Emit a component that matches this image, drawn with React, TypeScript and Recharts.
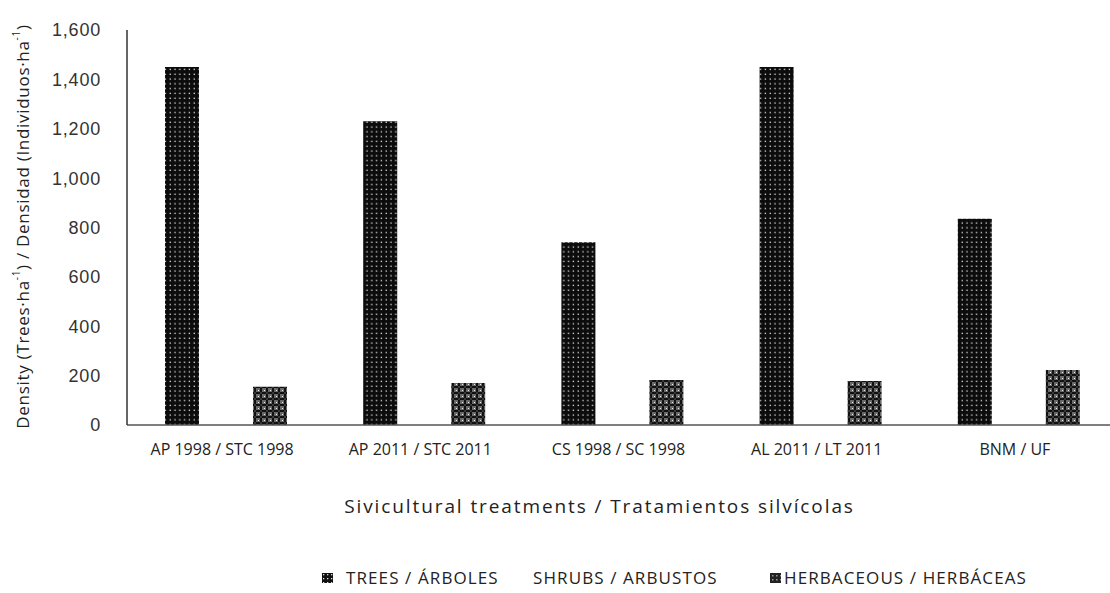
import React from "react";
import { BarChart, Bar, XAxis, YAxis, Legend } from "recharts";

const categories = [
	"AP 1998 / STC 1998",
	"AP 2011 / STC 2011",
	"CS 1998 / SC 1998",
	"AL 2011 / LT 2011",
	"BNM / UF",
];
const trees = [1450, 1230, 740, 1450, 835];
const shrubs = [0, 0, 0, 0, 0];
const herbaceous = [155, 170, 182, 178, 223];
const yTicks = [0, 200, 400, 600, 800, 1000, 1200, 1400, 1600];

const data = categories.map((name, i) => ({
	name,
	trees: trees[i],
	shrubs: shrubs[i],
	herbaceous: herbaceous[i],
}));

const FONT = "'Open Sans', 'Noto Sans', sans-serif";

const renderYLabel = ({ viewBox }: any) => {
	const cx = 22;
	const cy = viewBox.y + viewBox.height / 2 - 1;
	return (
		<text
			x={cx}
			y={cy}
			transform={`rotate(-90, ${cx}, ${cy})`}
			textAnchor="middle"
			dominantBaseline="central"
			fontFamily={FONT}
			fontSize={17}
			letterSpacing={0.7}
			fill="#222">
			<tspan>Density (Trees·ha</tspan>
			<tspan fontSize={10} dy={-6}>-1</tspan>
			<tspan dy={6}>) / Densidad (Individuos·ha</tspan>
			<tspan fontSize={10} dy={-6}>-1</tspan>
			<tspan dy={6}>)</tspan>
		</text>
	);
};

const renderXLabel = ({ viewBox }: any) => {
	return (
		<text
			x={viewBox.x + viewBox.width / 2 - 23}
			y={viewBox.y + 88}
			textAnchor="middle"
			fontFamily={FONT}
			fontSize={19}
			letterSpacing={1.9}
			fill="#222">
			Sivicultural treatments / Tratamientos silvícolas
		</text>
	);
};

const renderLegend = () => {
	const item = (label: string, fill: string | null, width: number | undefined, iconGap: number) => (
		<div style={{ display: "flex", alignItems: "center", width }}>
			{fill ? (
				<svg width={11} height={10} style={{ marginRight: iconGap }}>
					<rect width={11} height={10} fill={fill} />
				</svg>
			) : null}
			<span>{label}</span>
		</div>
	);
	return (
		<div
			style={{
				display: "flex",
				alignItems: "center",
				paddingLeft: 322,
				fontFamily: FONT,
				fontSize: 17,
				letterSpacing: 1.1,
				color: "#222",
			}}>
			{item("TREES / ÁRBOLES", "url(#treesIcon)", 211, 13)}
			{item("SHRUBS / ARBUSTOS", null, 237, 0)}
			{item("HERBACEOUS / HERBÁCEAS", "url(#herbIcon)", undefined, 3)}
		</div>
	);
};

export default function App() {
	return (
		<div
			style={{
				position: "absolute",
				left: 0,
				top: 0,
				width: 1110,
				height: 593,
				overflow: "hidden",
				background: "#fff",
			}}>
			<svg width={0} height={0} style={{ position: "absolute" }}>
				<defs>
					<pattern id="treesIcon" width="4" height="4" patternUnits="userSpaceOnUse">
						<rect width="4" height="4" fill="#111" />
						<rect x="1" y="1" width="1.3" height="1.3" fill="#ddd" />
					</pattern>
					<pattern id="herbIcon" width="4" height="4" patternUnits="userSpaceOnUse">
						<rect width="4" height="4" fill="#222" />
						<rect x="2" y="2" width="1.5" height="1.5" fill="#999" />
					</pattern>
				</defs>
			</svg>
			<BarChart
				width={1118}
				height={593}
				data={data}
				margin={{ top: 30, right: 0, left: 0, bottom: 115 }}
				barSize={34}
				barGap={10}>
				<defs>
					<pattern id="treesPat" width="4.8" height="4.8" patternUnits="userSpaceOnUse">
						<rect width="4.8" height="4.8" fill="#0c0c0c" />
						<rect x="1.6" y="1.6" width="1.3" height="1.3" fill="#e8e8e8" />
					</pattern>
					<pattern id="herbPat" width="6" height="6" patternUnits="userSpaceOnUse">
						<rect width="6" height="6" fill="#6a6a6a" />
						<rect x="2" y="0" width="2" height="6" fill="#111" />
						<rect x="0" y="2" width="6" height="2" fill="#111" />
						<rect x="2.5" y="2.5" width="1" height="1" fill="#aaa" />
						<rect x="0" y="0" width="1" height="1" fill="#eee" />
					</pattern>
				</defs>
				<XAxis
					dataKey="name"
					axisLine={{ stroke: "#555", strokeWidth: 1.5 }}
					tickLine={false}
					tickSize={6}
					tickMargin={13}
					tick={{ fontFamily: FONT, fontSize: 16, fill: "#222", dx: -4 }}
					interval={0}
					label={renderXLabel}
				/>
				<YAxis
					width={127}
					domain={[0, 1600]}
					ticks={yTicks}
					interval={0}
					axisLine={{ stroke: "#333", strokeWidth: 1.5 }}
					tickLine={false}
					tickSize={6}
					tickMargin={20}
					tickFormatter={(v: number) => v.toLocaleString("en-US")}
					tick={{ fontFamily: "'Liberation Sans', Arial, sans-serif", fontSize: 18, letterSpacing: 0.8, fill: "#333" }}
					label={renderYLabel}
				/>
				<Legend
					verticalAlign="bottom"
					content={renderLegend}
					wrapperStyle={{ left: 0, bottom: 4, width: 1110 }}
				/>
				<Bar dataKey="trees" name="TREES / ÁRBOLES" fill="url(#treesPat)" isAnimationActive={false} />
				<Bar dataKey="shrubs" name="SHRUBS / ARBUSTOS" fill="#ffffff" isAnimationActive={false} />
				<Bar dataKey="herbaceous" name="HERBACEOUS / HERBÁCEAS" fill="url(#herbPat)" isAnimationActive={false} />
			</BarChart>
		</div>
	);
}
